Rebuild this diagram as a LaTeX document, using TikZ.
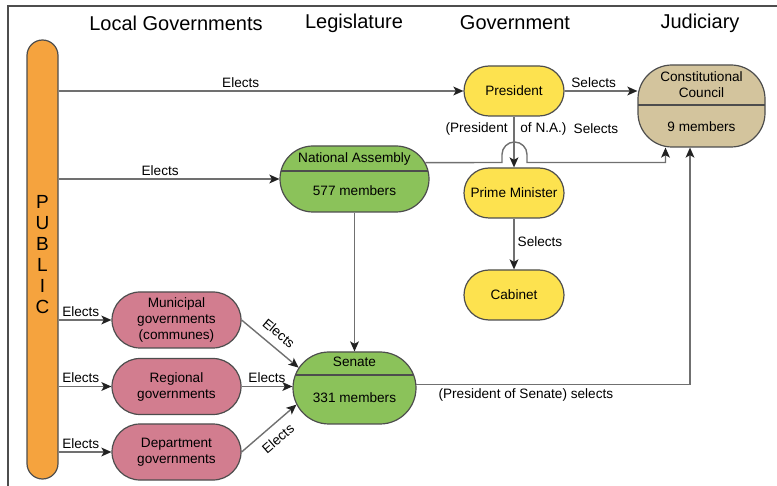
\documentclass[tikz,border=0pt]{standalone}
\usepackage{fontspec}
\setmainfont{Liberation Sans}
\usepackage{tikz}
\usepackage{xcolor}
\usetikzlibrary{shapes.misc,arrows.meta}

\definecolor{outline}{HTML}{4D4D4D}
\definecolor{linegray}{HTML}{707070}
\definecolor{tipdark}{HTML}{222222}
\definecolor{publicorange}{HTML}{F5A33E}
\definecolor{govyellow}{HTML}{FDE24F}
\definecolor{counciltan}{HTML}{D3C49D}
\definecolor{housegreen}{HTML}{8BC25A}
\definecolor{localpink}{HTML}{D27D8F}

\begin{document}
\begin{tikzpicture}[x=0.5pt,y=-0.5pt]%
  \tikzstyle{head}=[font=\fontsize{10}{12}\selectfont,inner sep=1pt]
  \tikzstyle{txt}=[font=\fontsize{6.8}{8}\selectfont,align=center,inner sep=1pt]
  \tikzstyle{lbl}=[txt,inner sep=1.5pt]
  \tikzstyle{box}=[rounded rectangle,draw=outline,line width=0.6pt,txt]
  \tikzstyle{gov}=[box,fill=govyellow,minimum width=52pt,minimum height=25pt]
  \tikzstyle{local}=[box,fill=localpink,minimum width=66.5pt,minimum height=28pt]
  \tikzstyle{house}=[box,fill=housegreen]
  \tikzstyle{conn}=[draw=linegray,line width=0.7pt,-{Stealth[length=5pt,width=4.4pt,inset=1.2pt,color=tipdark]}]
  \tikzset{divided/.style={path picture={\draw[outline,line width=0.6pt]
        ([yshift=#1]path picture bounding box.west) -- ([yshift=#1]path picture bounding box.east);}}}
  \useasboundingbox (0,0) rectangle (777,486);
  \draw[outline,line width=0.6pt] (8,486) -- (8,6) -- (777,6);

  \node(hlocal)[head] at (176,23) {Local Governments};
  \node(hleg)[head] at (354,23) {Legislature};
  \node(hgov)[head] at (515,23) {Government};
  \node(hjud)[head] at (700,23) {Judiciary};

  \node(public)[draw=outline,line width=0.6pt,fill=publicorange,rounded corners=7.75pt,
    minimum width=15.5pt,minimum height=219.5pt,inner sep=0pt] at (42.5,259.5) {};
  \node(publictxt)[font=\fontsize{9.5}{10.5}\selectfont,align=center,inner sep=0pt]
    at (42.5,255) {P\\U\\B\\L\\I\\C};

  \node(pres)[gov] at (514,91) {President};
  \node(pm)[gov] at (514,193) {Prime Minister};
  \node(cab)[gov] at (514,295) {Cabinet};

  \node(council)[draw=outline,line width=0.6pt,fill=counciltan,rounded corners=17pt,
    minimum width=63.5pt,minimum height=41pt,divided=0.5pt] at (701.5,106) {};
  \node(counciltop)[txt] at (701.5,85) {Constitutional\\Council};
  \node(councilnum)[txt] at (701.5,127) {9 members};

  \node(na)[house,minimum width=76.5pt,minimum height=33pt,divided=4pt] at (354.5,179) {};
  \node(natop)[txt] at (354.5,159) {National Assembly};
  \node(nanum)[txt] at (354.5,191) {577 members};

  \node(senate)[house,minimum width=63.5pt,minimum height=36pt,divided=6.5pt] at (354.5,388) {};
  \node(senatetop)[txt] at (354.5,362) {Senate};
  \node(senatenum)[txt] at (354.5,398) {331 members};

  \node(muni)[local] at (176.5,320) {Municipal\\governments\\(communes)};
  \node(reg)[local] at (176.5,386.5) {Regional\\governments};
  \node(dept)[local] at (176.5,452) {Department\\governments};

  % public elects
  \draw[conn] (pres.west -| public.east) -- (pres.west) node[lbl,above,pos=0.45] {Elects};
  \draw[conn] (na.west -| public.east) -- (na.west) node[lbl,above,pos=0.46] {Elects};
  \draw[conn] (muni.west -| public.east) -- (muni.west) node[lbl,above,pos=0.42] {Elects};
  \draw[conn] (reg.west -| public.east) -- (reg.west) node[lbl,above,pos=0.42] {Elects};
  \draw[conn] (dept.west -| public.east) -- (dept.west) node[lbl,above,pos=0.42] {Elects};

  \draw[conn] (muni.east) -- (senate.160) node[lbl,sloped,above=2.5pt,midway] {Elects};
  \draw[conn] (reg.east) -- (senate.west |- reg.east) node[lbl,above,midway] {Elects};
  \draw[conn] (dept.east) -- (senate.196) node[lbl,sloped,below=2.5pt,midway] {Elects};

  \draw[conn] (na.south) -- (senate.north);
  \draw[conn] (pres.east) -- (pres.east -| council.west) node[lbl,above,pos=0.4] {Selects};
  \draw[conn] (pres.south) -- (pm.north);
  \draw[conn] (pm.south) -- (cab.north) node[lbl,right,pos=0.45] {Selects};

  % line hop over the president -> prime minister arrow
  \draw[conn] (na.13) -- (502,162.5) -- (502,154.5) arc[start angle=180,end angle=0,radius=6.25pt]
    -- (527,162.5) -| ([xshift=-18pt]council.south);
  \node(napres)[lbl,anchor=east] at (511,129) {(President};
  \node(naof)[lbl,anchor=west] at (517,129) {of N.A.)};
  \node(naselects)[lbl] at (596,129) {Selects};

  \draw[conn] (senate.3) -| ([xshift=-5.75pt]council.south)
    node[lbl,below,pos=0.2] {(President of Senate) selects};
\end{tikzpicture}
\end{document}
